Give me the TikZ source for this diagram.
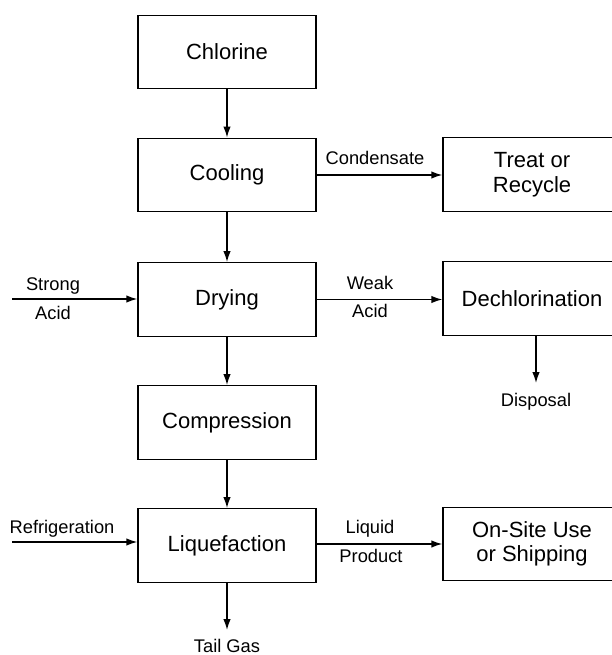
\documentclass[tikz,border=0pt]{standalone}
\usepackage{fontspec}
\setmainfont{Liberation Sans}
\usetikzlibrary{arrows.meta}
\tikzset{
  unit/.style={draw,line width=1.4pt,minimum width=178pt,minimum height=73.5pt,inner sep=0pt,align=center,font=\fontsize{22}{24.5}\selectfont},
  flow/.style={line width=1.4pt,-{Latex[length=11pt,width=7.5pt]}},
  tag/.style={inner sep=0pt,font=\fontsize{18.3}{20}\selectfont}
}
\begin{document}
\begin{tikzpicture}[x=1pt,y=-1pt]
        \def\lx{227}
        \def\rx{532}
        \useasboundingbox (0,0) rectangle (611,655);
        % main line
        \node[unit] (chlorine) at (\lx,52) {Chlorine};
        \node[unit] (cooling) at (\lx,175) {Cooling};
        \node[unit] (drying) at (\lx,299.5) {Drying};
        \node[unit] (compression) at (\lx,422.5) {Compression};
        \node[unit] (liquefaction) at (\lx,545.5) {Liquefaction};
        % side units
        \node[unit] (treat) at (\rx,174.5) {Treat or\\Recycle};
        \node[unit] (dechlorination) at (\rx,298.5) {Dechlorination};
        \node[unit] (onsite) at (\rx,544) {On-Site Use\\or Shipping};
        \coordinate (strong) at (12,299);
        \coordinate (refrig) at (12,542);
        \coordinate (tail) at (\lx,630);
        \coordinate (disposal) at (536,383);
        \draw[flow] (chlorine) -- (cooling);
        \draw[flow] (cooling) -- (drying);
        \draw[flow] (drying) -- (compression);
        \draw[flow] (compression) -- (liquefaction);
        \draw[flow] (liquefaction.south) -- (tail);
        \draw[flow] (cooling.east) -- (cooling.east -| treat.west);
        \draw[flow] (drying.east) -- (drying.east -| dechlorination.west);
        \draw[flow] (liquefaction.east |- onsite) -- (onsite.west);
        \draw[flow] (strong) -- (strong -| drying.west);
        \draw[flow] (refrig) -- (refrig -| liquefaction.west);
        \draw[flow] (disposal |- dechlorination.south) -- (disposal);
        % stream labels
        \node[tag] (condensate) at (375,158) {Condensate};
        \node[tag] (weak) at (370,283) {Weak};
        \node[tag] (weakacid) at (370,311) {Acid};
        \node[tag] (strongtxt) at (53,286) {Strong};
        \node[tag] (strongacid) at (53,313) {Acid};
        \node[tag] (refrigtxt) at (62,529) {Refrigeration};
        \node[tag] (liquid) at (370,529) {Liquid};
        \node[tag] (product) at (371,556) {Product};
        \node[tag] (disposaltxt) at (536,402) {Disposal};
        \node[tag] (tailtxt) at (\lx,646) {Tail Gas};
\end{tikzpicture}
\end{document}
